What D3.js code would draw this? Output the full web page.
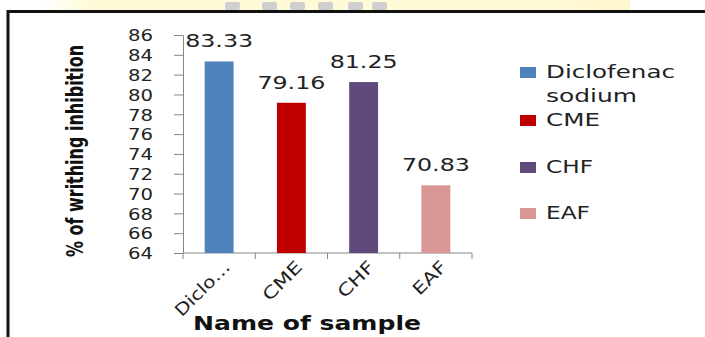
<!DOCTYPE html>
<html><head><meta charset="utf-8">
<script src="https://cdn.jsdelivr.net/npm/d3@7"></script>
<style>body{margin:0;background:#fff}svg{display:block}</style>
</head><body>
<svg id="c" width="705" height="337"></svg>
<script>
const categories = ["Diclofenac sodium", "CME", "CHF", "EAF"];
const tickLabels = ["Diclo…", "CME", "CHF", "EAF"];
const values = [83.33, 79.16, 81.25, 70.83];
const valueLabels = ["83.33", "79.16", "81.25", "70.83"];
const colors = ["#4F81BD", "#C00000", "#604A7B", "#D99694"];
const yTicks = [64, 66, 68, 70, 72, 74, 76, 78, 80, 82, 84, 86];
const legendLines = [["Diclofenac", "sodium"], ["CME"], ["CHF"], ["EAF"]];
const yTitle = "% of writhing inhibition";
const xTitle = "Name of sample";
const watermarkBlocks = [225, 262, 290, 318, 348, 372];

const svg = d3.select("#c");
const W = 705, H = 337;

// header band with faint watermark shapes
const grad = svg.append("defs").append("linearGradient").attr("id","yb").attr("x1","0").attr("x2","1");
grad.append("stop").attr("offset","0").attr("stop-color","#fffbe0").attr("stop-opacity",0);
grad.append("stop").attr("offset","0.08").attr("stop-color","#fffbd8");
grad.append("stop").attr("offset","0.85").attr("stop-color","#fffbd8");
grad.append("stop").attr("offset","1").attr("stop-color","#fff3c8").attr("stop-opacity",0.9);
svg.append("rect").attr("x",40).attr("y",0).attr("width",590).attr("height",10).attr("fill","url(#yb)");
svg.selectAll(".wm").data(watermarkBlocks).join("rect").attr("class","wm")
  .attr("x",d=>d).attr("y",2).attr("width",15).attr("height",8).attr("rx",2).attr("fill","#cfcfcf");

// frame
svg.append("path").attr("d",`M8,${H} V11.5 H${W}`).attr("fill","none").attr("stroke","#111").attr("stroke-width",3);

const x = d3.scaleBand().domain(categories).range([183, 472]).paddingInner(0.6).paddingOuter(0.3);
const y = d3.scaleLinear().domain([64, 86]).range([253, 35]);
const axisColor = "#868686";

// y axis
const yAxis = svg.append("g").attr("transform","translate(183,0)")
  .call(d3.axisLeft(y).tickValues(yTicks).tickSize(9).tickSizeOuter(0).tickPadding(21));
yAxis.select(".domain").attr("stroke",axisColor);
yAxis.selectAll(".tick line").attr("stroke",axisColor);
yAxis.selectAll(".tick text").attr("font-family","DejaVu Sans").attr("font-size",16).attr("fill","#222")
  .attr("textLength",25).attr("lengthAdjust","spacingAndGlyphs").attr("dy","0.36em");

// x axis line and tick marks at band boundaries
svg.append("line").attr("x1",183).attr("x2",472).attr("y1",y(64)).attr("y2",y(64)).attr("stroke",axisColor);
const step = x.step();
const bounds = d3.range(categories.length + 1).map(i => x.range()[0] + i * step);
svg.selectAll(".xt").data(bounds).join("line").attr("class","xt")
  .attr("x1",d=>d).attr("x2",d=>d).attr("y1",y(64)).attr("y2",y(64)+6).attr("stroke",axisColor);

// bars
svg.selectAll(".bar").data(values).join("rect").attr("class","bar")
  .attr("x",(d,i)=>x(categories[i])).attr("width",x.bandwidth())
  .attr("y",d=>y(d)).attr("height",d=>y(64)-y(d)).attr("fill",(d,i)=>colors[i]);

// value labels
svg.selectAll(".vl").data(values).join("text").attr("class","vl")
  .attr("x",(d,i)=>x(categories[i])+x.bandwidth()/2).attr("y",d=>y(d)-14)
  .attr("text-anchor","middle").attr("font-family","DejaVu Sans").attr("font-size",18).attr("fill","#222")
  .attr("textLength",68).attr("lengthAdjust","spacingAndGlyphs")
  .text((d,i)=>valueLabels[i]);

// x tick labels
const xlw = [70, 48, 44, 40];
svg.selectAll(".xl").data(tickLabels).join("text").attr("class","xl")
  .attr("transform",(d,i)=>`translate(${x(categories[i])+x.bandwidth()/2+12},${268}) rotate(-45)`)
  .attr("text-anchor","end").attr("font-family","DejaVu Sans").attr("font-size",17).attr("fill","#222")
  .attr("textLength",(d,i)=>xlw[i]).attr("lengthAdjust","spacingAndGlyphs")
  .text(d=>d);

// axis titles
svg.append("text").attr("transform","translate(83,151) rotate(-90) scale(1,1.45)").attr("text-anchor","middle")
  .attr("font-family","DejaVu Sans").attr("font-weight","bold").attr("font-size",16).attr("fill","#111")
  .text(yTitle);
svg.append("text").attr("x",307).attr("y",330).attr("text-anchor","middle")
  .attr("font-family","DejaVu Sans").attr("font-weight","bold").attr("font-size",20).attr("fill","#111")
  .attr("textLength",228).attr("lengthAdjust","spacingAndGlyphs").text(xTitle);

// legend
const legY = [72, 120, 167, 213];
const legW = [[129, 91], [54], [47], [44]];
const leg = svg.selectAll(".leg").data(categories).join("g").attr("class","leg")
  .attr("transform",(d,i)=>`translate(520,${legY[i]})`);
leg.append("rect").attr("x",0).attr("y",-5).attr("width",16).attr("height",11).attr("fill",(d,i)=>colors[i]);
leg.each(function(d,i){
  const g = d3.select(this);
  legendLines[i].forEach((line,j)=>{
    g.append("text").attr("x",26).attr("y",j*24).attr("dy","0.36em")
      .attr("font-family","DejaVu Sans").attr("font-size",18).attr("fill","#222")
      .attr("textLength",legW[i][j]).attr("lengthAdjust","spacingAndGlyphs").text(line);
  });
});
</script>
</body></html>
